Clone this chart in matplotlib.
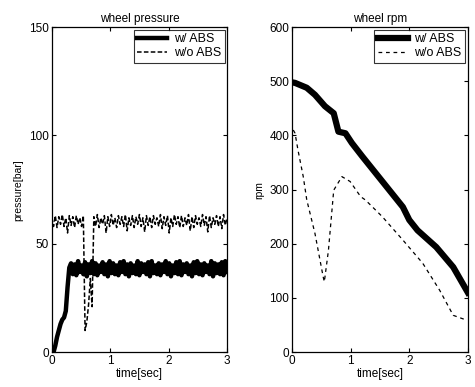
import numpy as np
import matplotlib
matplotlib.use("Agg")
import matplotlib.pyplot as plt

plt.rcParams["font.family"] = ["Liberation Sans", "DejaVu Sans"]

# ---------- data: wheel pressure (sampled every 0.03 s) ----------
t_press = np.linspace(0, 3, 101)

p_abs = [0, 0, 3, 7, 10, 13, 15, 16, 19, 30, 39,
         41, 36, 40.5, 35.5, 42, 37, 40, 36, 41.5, 35, 40.5, 36.5, 42, 36, 41, 35.5, 40, 37, 41.5, 36,
         40.5, 35, 42, 36.5, 41, 36, 40, 35.5, 41.5, 37, 42, 36, 40.5, 35, 41, 36.5, 40, 36, 42, 35.5,
         41, 37, 40.5, 36, 41.5, 35, 42, 36.5, 40, 36, 41, 35.5, 40.5, 37, 42, 36, 41, 35, 40, 36.5,
         41.5, 36, 42, 35.5, 40.5, 37, 41, 36, 40, 35, 41.5, 36.5, 42, 36, 40.5, 35.5, 41, 37, 40, 36,
         42, 35, 41, 36.5, 40.5, 36, 41.5, 35.5, 42, 37]

p_noabs = [62, 58, 63, 57.5, 62.5, 59, 63.5, 58, 62, 55, 63, 58.5, 62.5, 57.5, 63, 59, 62, 58, 63,
           10, 14, 22, 34, 21,
           62.5, 58, 63.5, 57.5, 62, 59, 63, 55, 62.5, 58, 63.5, 58.5, 62, 57.5, 63, 59, 62.5, 58, 63.5, 56,
           62, 58.5, 63, 57.5, 62.5, 59, 63.5, 58, 62, 55.5, 63, 58.5, 62.5, 57.5, 63, 59, 62, 58, 63.5, 57,
           62.5, 58.5, 63, 55, 62, 58, 63.5, 59, 62.5, 57.5, 63, 58, 62, 58.5, 63.5, 56, 62.5, 57.5, 63, 59,
           62, 58, 63.5, 58.5, 62.5, 55.5, 63, 57.5, 62, 59, 63, 58, 62.5, 57, 63.5, 58.5, 62]

# ---------- data: wheel rpm ----------
t_rpm_abs = [0, 0.05, 0.25, 0.39, 0.56, 0.71, 0.79, 0.91, 1.02, 1.2, 1.43, 1.66,
             1.89, 2.0, 2.14, 2.46, 2.75, 3.0]
rpm_abs = [498, 497, 488, 475, 454, 441, 407, 404, 386, 361, 330, 299,
           268, 244, 225, 194, 157, 110]

t_rpm_noabs = [0.02, 0.05, 0.1, 0.19, 0.25, 0.39, 0.53, 0.55, 0.62, 0.71, 0.85, 0.99,
               1.17, 1.25, 1.54, 1.89, 2.23, 2.52, 2.75, 2.98]
rpm_noabs = [410, 404, 373, 324, 281, 219, 139, 130, 188, 299, 324, 315,
             287, 281, 250, 207, 164, 114, 68, 59]

FS = 8.5

fig = plt.figure(figsize=(4.75, 3.87), dpi=100)
ax1 = fig.add_axes([0.109, 0.090, 0.369, 0.840])
ax2 = fig.add_axes([0.615, 0.090, 0.370, 0.840])


def style(ax, yticks, ylim, title, ylabel):
    ax.set_xlim(0, 3)
    ax.set_ylim(*ylim)
    ax.set_xticks([0, 1, 2, 3])
    ax.set_yticks(yticks)
    ax.tick_params(direction="in", top=True, right=True, length=3,
                   width=0.8, labelsize=FS, pad=2)
    for s in ax.spines.values():
        s.set_linewidth(0.9)
    ax.set_title(title, fontsize=FS, pad=4)
    ax.set_xlabel("time[sec]", fontsize=FS, labelpad=1)
    ax.set_ylabel(ylabel, fontsize=7.5, labelpad=4)
    leg = ax.legend(loc="upper right", fontsize=9, frameon=True, fancybox=False,
                    handlelength=2.4, borderpad=0.3, labelspacing=0.15,
                    borderaxespad=0.2, handletextpad=0.5)
    leg.get_frame().set_edgecolor("black")
    leg.get_frame().set_linewidth(0.8)


ax1.plot(t_press, p_abs, color="black", lw=3.2, label="w/ ABS")
ax1.plot(t_press, p_noabs, color="black", lw=1.1, ls=(0, (3, 1.5)), label="w/o ABS")
style(ax1, [0, 50, 100, 150], (0, 150), "wheel pressure", "pressure[bar]")

ax2.plot(t_rpm_abs, rpm_abs, color="black", lw=4.5, label="w/ ABS")
ax2.plot(t_rpm_noabs, rpm_noabs, color="black", lw=0.9, ls=(0, (3, 3)), label="w/o ABS")
style(ax2, [0, 100, 200, 300, 400, 500, 600], (0, 600), "wheel rpm", "rpm")

fig.savefig("out.png", dpi=100)
